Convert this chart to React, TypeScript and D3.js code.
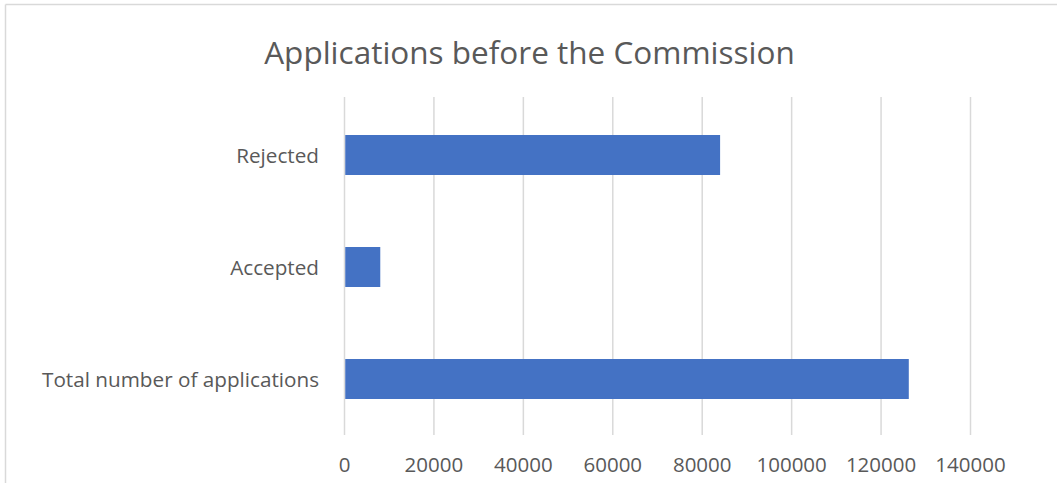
import * as d3 from "d3";

const categories = ["Total number of applications", "Accepted", "Rejected"];
const values = [126200, 8000, 84000];
const tickValues = [0, 20000, 40000, 60000, 80000, 100000, 120000, 140000];
const title = "Applications before the Commission";

const W = 1057;
const H = 483;
const FONT = "'Open Sans', sans-serif";

export default function App() {
  const x = d3.scaleLinear().domain([0, 140000]).range([344.5, 970.5]);
  const y = d3
    .scaleBand<string>()
    .domain([...categories].reverse())
    .range([99, 435])
    .paddingInner(0.643)
    .paddingOuter(0.3215);

  return (
    <div style={{ position: "fixed", left: 0, top: 0 }}>
      <svg width={W} height={H} style={{ display: "block", background: "#fff" }}>
        {/* chart frame (only top and left edges visible) */}
        <line x1={5.5} x2={W} y1={4.5} y2={4.5} stroke="#d9d9d9" strokeWidth={1.5} />
        <line x1={5.5} x2={5.5} y1={4.5} y2={H} stroke="#d9d9d9" strokeWidth={1.5} />

        <text
          x={529.5}
          y={64}
          textAnchor="middle"
          fontFamily={FONT}
          fontSize={31.5}
          fill="#595959"
        >
          {title}
        </text>

        {/* gridlines */}
        {tickValues.map((t) => (
          <line
            key={t}
            x1={x(t)}
            x2={x(t)}
            y1={97}
            y2={435}
            stroke="#d9d9d9"
            strokeWidth={1.5}
          />
        ))}

        {/* bars */}
        {categories.map((c, i) => (
          <rect
            key={c}
            x={x(0) + 0.75}
            y={y(c)}
            width={x(values[i]) - x(0) - 0.75}
            height={y.bandwidth()}
            fill="#4472C4"
          />
        ))}

        {/* category labels */}
        {categories.map((c) => (
          <text
            key={c}
            x={319}
            y={(y(c) ?? 0) + y.bandwidth() / 2 + 7.7}
            textAnchor="end"
            fontFamily={FONT}
            fontSize={20.7}
            fill="#595959"
          >
            {c}
          </text>
        ))}

        {/* x tick labels */}
        {tickValues.map((t) => (
          <text
            key={t}
            x={x(t)}
            y={472}
            textAnchor="middle"
            fontFamily={FONT}
            fontSize={20.5}
            fill="#595959"
          >
            {t}
          </text>
        ))}
      </svg>
    </div>
  );
}
